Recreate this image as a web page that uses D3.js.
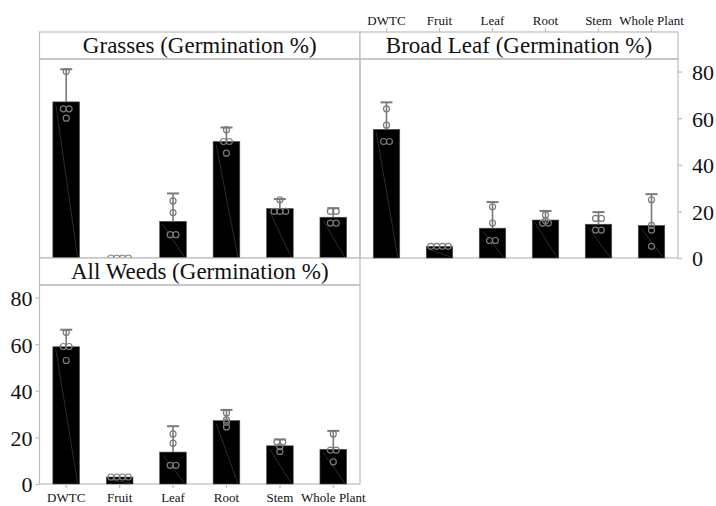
<!DOCTYPE html>
<html>
<head>
<meta charset="utf-8">
<script src="https://cdn.jsdelivr.net/npm/d3@7"></script>
<style>
  body { margin: 0; background: #fff; }
  svg { display: block; }
  svg text { font-family: "Liberation Serif", "DejaVu Serif", serif !important; fill: #111; }
</style>
</head>
<body>
<svg id="chart" width="716" height="506"></svg>
<script>
var categories = ["DWTC", "Fruit", "Leaf", "Root", "Stem", "Whole Plant"];
var yTicks = [0, 20, 40, 60, 80];

// Grasses
var grassesMean  = [67, 0, 15.75, 50, 21.25, 17.5];
var grassesUpper = [81, 0, 27.7, 56, 25.3, 21.4];
var grassesPoints = [[80, 64, 64, 60], [0, 0, 0, 0], [24.5, 19.5, 10, 10], [55, 50, 50, 45], [25, 20, 20, 20], [20, 20, 15, 15]];

// Broad leaf
var broadMean  = [55.2, 5, 12.8, 16.3, 14.5, 14];
var broadUpper = [66.8, 5, 24, 20.2, 19.7, 27.4];
var broadPoints = [[64, 57, 50, 50], [5, 5, 5, 5], [22, 15, 7.5, 7.5], [18.5, 15, 15, 16], [17, 17, 12, 12], [25, 14, 12, 5]];

// All weeds
var allMean  = [58.9, 3, 13.7, 27.2, 16.4, 14.9];
var allUpper = [66.2, 3, 24.8, 31.8, 19.1, 22.8];
var allPoints = [[65, 59, 59, 53], [3, 3, 3, 3], [21.5, 17.5, 8, 8], [30.5, 27.5, 26.5, 24.5], [18, 18, 16, 14], [21.5, 14.5, 14.5, 9.5]];

var svg = d3.select("#chart");
var serif = "'Liberation Serif', 'DejaVu Serif', serif";
var border = "#bdbdbd", errColor = "#7a7a7a";
var stripH = 27, plotH = 199;

var panels = [
  {title: "Grasses (Germination %)", mean: grassesMean, upper: grassesUpper, points: grassesPoints, x0: 39.5, x1: 360, top: 32},
  {title: "Broad Leaf (Germination %)", mean: broadMean, upper: broadUpper, points: broadPoints, x0: 360, x1: 678, top: 32},
  {title: "All Weeds (Germination %)", mean: allMean, upper: allUpper, points: allPoints, x0: 39.5, x1: 360, top: 258}
];

panels.forEach(function(p) {
  var plotTop = p.top + stripH, plotBottom = plotTop + plotH;
  var x = d3.scaleBand().domain(categories).range([p.x0, p.x1]).paddingInner(0.5).paddingOuter(0.25);
  var y = d3.scaleLinear().domain([0, 85.4]).range([plotBottom, plotTop]);
  p.x = x; p.y = y;

  var g = svg.append("g").attr("class", "panel");

  // strip
  g.append("rect").attr("x", p.x0).attr("y", p.top).attr("width", p.x1 - p.x0).attr("height", stripH)
    .attr("fill", "#fff").attr("stroke", border).attr("stroke-width", 1.2);
  g.append("text").attr("x", (p.x0 + p.x1) / 2).attr("y", p.top + 21)
    .attr("text-anchor", "middle").style("font-family", serif).style("font-size", "23px").text(p.title);

  // plot frame
  g.append("rect").attr("x", p.x0).attr("y", plotTop).attr("width", p.x1 - p.x0).attr("height", plotH)
    .attr("fill", "none").attr("stroke", border).attr("stroke-width", 1.2);

  categories.forEach(function(d, k) {
    var s = g.append("g").attr("class", "bar");
    var cx = x(d) + x.bandwidth() / 2;

    s.append("rect")
      .attr("x", x(d)).attr("y", y(p.mean[k]))
      .attr("width", x.bandwidth()).attr("height", y(0) - y(p.mean[k]))
      .attr("fill", "#000").attr("stroke", "#555").attr("stroke-width", 0.6);

    // faint diagonal inside bars
    if (p.mean[k] > 2) {
      s.append("line")
        .attr("x1", x(d) + 3).attr("y1", y(p.mean[k]) + 3)
        .attr("x2", x(d) + x.bandwidth() - 2).attr("y2", y(0) - 1)
        .attr("stroke", "#4a4a4a").attr("stroke-width", 0.6);
    }

    // error bar
    if (p.upper[k] > p.mean[k]) {
      s.append("line").attr("x1", cx).attr("x2", cx).attr("y1", y(p.mean[k])).attr("y2", y(p.upper[k]))
        .attr("stroke", errColor).attr("stroke-width", 1.6);
      s.append("line").attr("x1", cx - 6).attr("x2", cx + 6).attr("y1", y(p.upper[k])).attr("y2", y(p.upper[k]))
        .attr("stroke", errColor).attr("stroke-width", 2);
    }

    // replicate points, spread side by side when equal
    d3.groups(p.points[k], function(v) { return v; }).forEach(function(gr) {
      var n = gr[1].length;
      gr[1].forEach(function(v, j) {
        s.append("circle").attr("cx", cx + (j - (n - 1) / 2) * 5.8).attr("cy", y(v)).attr("r", 3)
          .attr("fill", "none").attr("stroke", errColor).attr("stroke-width", 1.2);
      });
    });
  });
});

function styleAxis(a, size) {
  a.attr("font-family", serif);
  a.select(".domain").remove();
  a.selectAll(".tick line").attr("stroke", border).attr("stroke-width", 1.2);
  a.selectAll(".tick text").style("font-family", serif).style("font-size", size).attr("fill", "#111");
}

// right y axis for top row
var ar = svg.append("g").attr("transform", "translate(678,0)")
  .call(d3.axisRight(panels[1].y).tickValues(yTicks).tickSize(4).tickPadding(10));
styleAxis(ar, "22px");
ar.selectAll(".tick text").attr("dy", "0.36em");

// left y axis for bottom panel
var al = svg.append("g").attr("transform", "translate(39.5,0)")
  .call(d3.axisLeft(panels[2].y).tickValues(yTicks).tickSize(4).tickPadding(3));
styleAxis(al, "22px");
al.selectAll(".tick text").attr("dy", "0.36em");

// top x axis for broad leaf
var at = svg.append("g").attr("transform", "translate(0,32)")
  .call(d3.axisTop(panels[1].x).tickSize(4).tickPadding(3));
styleAxis(at, "13px");

// bottom x axis for all weeds
var ab = svg.append("g").attr("transform", "translate(0," + (258 + stripH + plotH) + ")")
  .call(d3.axisBottom(panels[2].x).tickSize(4).tickPadding(5));
styleAxis(ab, "13px");
</script>
</body>
</html>
